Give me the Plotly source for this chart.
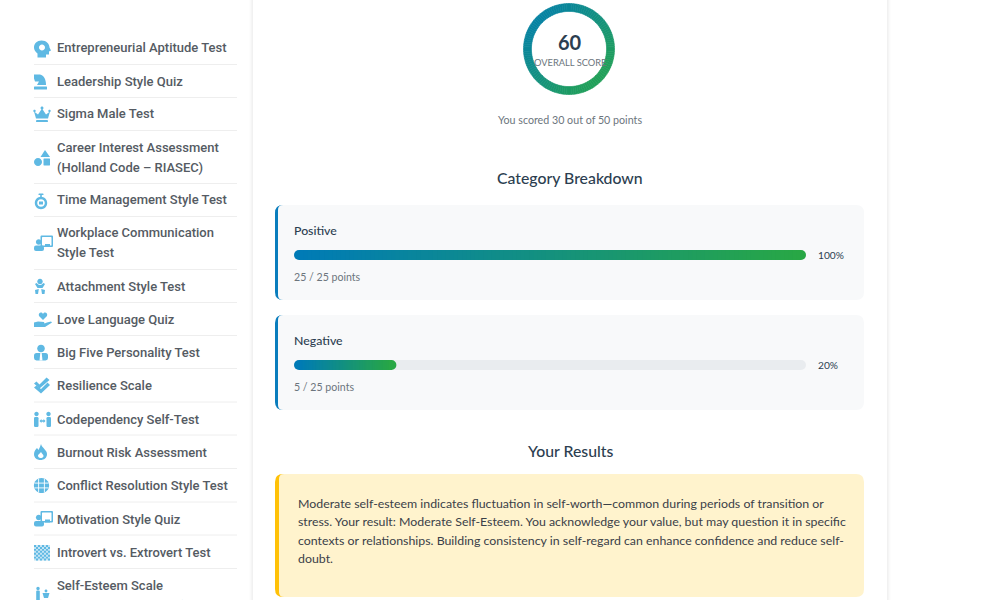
import math
import plotly.graph_objects as go

# ---- content ----
nav_items = [
    ["Entrepreneurial Aptitude Test"], ["Leadership Style Quiz"], ["Sigma Male Test"],
    ["Career Interest Assessment", "(Holland Code – RIASEC)"], ["Time Management Style Test"],
    ["Workplace Communication", "Style Test"], ["Attachment Style Test"], ["Love Language Quiz"],
    ["Big Five Personality Test"], ["Resilience Scale"], ["Codependency Self-Test"],
    ["Burnout Risk Assessment"], ["Conflict Resolution Style Test"], ["Motivation Style Quiz"],
    ["Introvert vs. Extrovert Test"], ["Self-Esteem Scale", "(Rosenberg Inventory)"],
]
nav_text_y = [[48], [81], [114], [147, 167], [200], [233, 253], [286], [319], [352], [385],
              [419], [452], [485], [519], [552], [585, 605]]
nav_rules_y = [64.5, 97.5, 130.5, 183.5, 216.5, 269.5, 302.5, 335.5, 368.5, 402, 435, 468.5, 502, 535, 568.5]

categories = ["Positive", "Negative"]
earned = [25, 5]
possible = [25, 25]
overall_score = 60
scored = 30
max_points = 50
result_lines = [
    "Moderate self-esteem indicates fluctuation in self-worth—common during periods of transition or",
    "stress. Your result: Moderate Self-Esteem. You acknowledge your value, but may question it in specific",
    "contexts or relationships. Building consistency in self-regard can enhance confidence and reduce self-",
    "doubt.",
]

# ---- styling ----
W, H = 1000, 600
BLUE = (0, 123, 182)
GREEN = (40, 167, 69)
DARK = "#2c3e50"
MUTED = "#6c757d"
ICON = "#5fb9e3"
MAIN_FONT = "Lato"
NAV_FONT = "Roboto"


def mix(t):
    return "rgb(%d,%d,%d)" % tuple(round(a + (b - a) * t) for a, b in zip(BLUE, GREEN))


def fx(x):
    return x / W


def fy(y):
    return 1 - y / H


def pth(cmds):
    """cmds: list of (letter, x1, y1, x2, y2, ...) in page pixels -> paper path."""
    out = []
    for c in cmds:
        nums = c[1:]
        pts = []
        for i in range(0, len(nums), 2):
            pts.append(f"{fx(nums[i]):.5f},{fy(nums[i + 1]):.5f}")
        out.append(c[0] + " ".join(pts))
    return " ".join(out)


def circle(cx, cy, r):
    k = 0.5523 * r
    return [("M", cx + r, cy),
            ("C", cx + r, cy + k, cx + k, cy + r, cx, cy + r),
            ("C", cx - k, cy + r, cx - r, cy + k, cx - r, cy),
            ("C", cx - r, cy - k, cx - k, cy - r, cx, cy - r),
            ("C", cx + k, cy - r, cx + r, cy - k, cx + r, cy), ("Z",)]


def rrect(x0, y0, x1, y1, r):
    return [("M", x0 + r, y0), ("L", x1 - r, y0), ("Q", x1, y0, x1, y0 + r),
            ("L", x1, y1 - r), ("Q", x1, y1, x1 - r, y1), ("L", x0 + r, y1),
            ("Q", x0, y1, x0, y1 - r), ("L", x0, y0 + r), ("Q", x0, y0, x0 + r, y0), ("Z",)]


def left_round(x0, y0, x1, y1, r):
    return [("M", x0 + r, y0), ("L", x1, y0), ("L", x1, y1), ("L", x0 + r, y1),
            ("Q", x0, y1, x0, y1 - r), ("L", x0, y0 + r), ("Q", x0, y0, x0 + r, y0), ("Z",)]


def poly(*pts):
    c = [("M", pts[0], pts[1])]
    for i in range(2, len(pts), 2):
        c.append(("L", pts[i], pts[i + 1]))
    c.append(("Z",))
    return c


shapes = []
annotations = []


def add_path(cmds, color, layer="below"):
    shapes.append(dict(type="path", xref="paper", yref="paper", path=pth(cmds), layer=layer,
                       fillcolor=color, line=dict(width=0), fillrule="evenodd"))


def add_line(x0, y0, x1, y1, color, w=1):
    shapes.append(dict(type="line", xref="paper", yref="paper", x0=fx(x0), y0=fy(y0), x1=fx(x1), y1=fy(y1),
                       layer="below", line=dict(color=color, width=w)))


def text(x, y, s, size, color, font=MAIN_FONT, weight=400, anchor="left"):
    annotations.append(dict(xref="paper", yref="paper", x=fx(x), y=fy(y), text=s, showarrow=False,
                            xanchor=anchor, yanchor="middle", align=anchor,
                            borderpad=0, borderwidth=0,
                            font=dict(family=font, size=size, color=color, weight=weight)))


# panel shadows
for x, c in [(249.5, "#fdfdfd"), (250.5, "#fafafa"), (251.5, "#f5f5f5"), (252.5, "#f1f1f1"),
             (887.5, "#f1f1f1"), (888.5, "#f5f5f5"), (889.5, "#fafafa"), (890.5, "#fdfdfd")]:
    add_line(x, 0, x, H, c)

# sidebar
for y in nav_rules_y:
    add_line(34, y, 237, y, "#eeeeee")
for lines, ys in zip(nav_items, nav_text_y):
    for s, y in zip(lines, ys):
        text(57, y, s, 13, "#555b63", font=NAV_FONT, weight=500)


# ---- icons (simplified glyphs) ----
def icon_head(cy):
    c = [("M", 41.5, cy - 8), ("C", 46.5, cy - 8, 49.5, cy - 4.5, 49.5, cy - 1), ("L", 51, cy + 2),
         ("L", 49, cy + 3), ("L", 49, cy + 6), ("L", 46, cy + 6), ("L", 46, cy + 9), ("L", 37.5, cy + 9),
         ("L", 37.5, cy + 5), ("C", 35, cy + 3, 34, cy + 1, 34, cy - 1), ("C", 34, cy - 5, 37, cy - 8, 41.5, cy - 8), ("Z",)]
    add_path(c + circle(42, cy - 1, 3), ICON)


def icon_knight(cy):
    add_path([("M", 34, cy - 7), ("L", 40, cy - 7), ("C", 44, cy - 6, 46, cy - 2, 46, cy + 3.5), ("L", 37, cy + 3.5),
              ("L", 39, cy), ("L", 35, cy), ("L", 34, cy - 3), ("Z",)], ICON)
    add_path(rrect(34, cy + 5, 47, cy + 8, 0.5), ICON)


def icon_crown(cy):
    add_path(poly(34, cy - 3, 38, cy, 42, cy - 6, 46, cy, 50, cy - 3, 48, cy + 4, 36, cy + 4), ICON)
    add_path(circle(42, cy - 6.5, 1.5), ICON)
    add_path(circle(34.5, cy - 3.5, 1.2), ICON)
    add_path(circle(49.5, cy - 3.5, 1.2), ICON)
    add_path(rrect(36, cy + 5.5, 48, cy + 7.5, 0.5), ICON)


def icon_shapes(cy):
    add_path(poly(45, cy - 7.5, 50, cy - 0.5, 40.5, cy - 0.5), ICON)
    add_path(circle(38, cy + 4.5, 4), ICON)
    add_path(rrect(43.5, cy + 1, 50, cy + 8, 0.5), ICON)


def icon_watch(cy):
    add_path(circle(41, cy + 2, 6.2) + circle(41, cy + 2, 3.8), ICON)
    add_path(rrect(38.5, cy - 7.5, 43.5, cy - 6, 0.5), ICON)
    add_path(rrect(40.2, cy - 6.5, 41.8, cy - 3.5, 0), ICON)
    add_path(rrect(39, cy + 0.5, 43, cy + 3.5, 0), ICON)


def icon_board(cy):
    add_path(circle(38.7, cy - 1.5, 2.8), ICON)
    add_path(rrect(34, cy + 2, 44, cy + 7.5, 2), ICON)
    add_path(rrect(40.5, cy - 8, 53, cy + 3.5, 1) + rrect(42, cy - 6.5, 51.5, cy + 2, 0.5), ICON)
    add_path(rrect(45, cy + 0.5, 50, cy + 3.5, 0), ICON)


def icon_baby(cy):
    add_path(circle(40, cy - 5, 2.7), ICON)
    add_path(poly(35, cy - 2.5, 36.5, cy - 3.5, 39, cy - 1.5, 41, cy - 1.5, 43.5, cy - 3.5, 45, cy - 2.5,
                  42.5, cy + 1.5, 37.5, cy + 1.5), ICON)
    add_path(poly(35, cy + 3.5, 38.8, cy + 2.5, 38, cy + 7.5, 35.5, cy + 7.5), ICON)
    add_path(poly(45, cy + 3.5, 41.2, cy + 2.5, 42, cy + 7.5, 44.5, cy + 7.5), ICON)


def icon_hand(cy):
    add_path([("M", 43, cy + 0.5), ("L", 39, cy - 3.5), ("C", 37.8, cy - 6.5, 41.5, cy - 8.5, 43, cy - 5.5),
              ("C", 44.5, cy - 8.5, 48.2, cy - 6.5, 47, cy - 3.5), ("Z",)], ICON)
    add_path([("M", 34, cy + 3), ("L", 38, cy + 2), ("L", 44, cy + 2.5), ("L", 44.5, cy + 4), ("L", 47, cy + 3),
              ("L", 51, cy + 2), ("L", 52, cy + 3), ("L", 45, cy + 7.5), ("L", 34, cy + 7.5), ("Z",)], ICON)


def icon_tie(cy):
    add_path(circle(41, cy - 4, 3.8), ICON)
    add_path(rrect(34, cy + 0.5, 48, cy + 8, 2.5), ICON)
    add_path(poly(40.3, cy + 0.5, 41.7, cy + 0.5, 42.5, cy + 8, 39.5, cy + 8), "#ffffff")


def icon_check(cy):
    add_path(poly(34, cy - 2, 36.5, cy - 4, 39.5, cy - 1, 46.5, cy - 8, 49.5, cy - 5.5, 39.5, cy + 3), ICON)
    add_path(poly(34, cy + 2, 36.5, cy, 41, cy + 3.5, 47.5, cy - 3, 50, cy - 0.5, 41, cy + 8), ICON)


def icon_people(cy):
    for cx in (36.5, 48.5):
        add_path(circle(cx, cy - 5.5, 2.2), ICON)
    add_path(rrect(34, cy - 2.5, 38.5, cy + 7.5, 1.2), ICON)
    add_path(rrect(46.5, cy - 2.5, 51, cy + 7.5, 1.2), ICON)
    add_path(poly(39.5, cy + 1.5, 41.5, cy - 0.5, 41.5, cy + 0.7, 43.5, cy + 0.7, 43.5, cy - 0.5, 45.5, cy + 1.5,
                  43.5, cy + 3.5, 43.5, cy + 2.3, 41.5, cy + 2.3, 41.5, cy + 3.5), ICON)


def icon_fire(cy):
    outer = [("M", 41, cy - 8), ("C", 42, cy - 4, 47, cy - 2, 47, cy + 2), ("C", 47, cy + 6, 44, cy + 8, 40.5, cy + 8),
             ("C", 37, cy + 8, 34, cy + 6, 34, cy + 2), ("C", 34, cy - 1, 36, cy - 3, 37, cy - 4), ("L", 38.5, cy - 2),
             ("C", 39.5, cy - 4, 40.5, cy - 6, 41, cy - 8), ("Z",)]
    inner = [("M", 41, cy), ("C", 42, cy + 2, 43.5, cy + 2.5, 43.5, cy + 4), ("C", 43.5, cy + 5.5, 42, cy + 6, 40.5, cy + 6),
             ("C", 39, cy + 6, 38, cy + 5, 38, cy + 3.5), ("C", 38, cy + 2.5, 40, cy + 1.5, 41, cy), ("Z",)]
    add_path(outer + inner, ICON)


def icon_globe(cy):
    add_path(circle(41.5, cy, 7.6), ICON)
    for x in (38.6, 44.4):
        add_line(x, cy - 7, x, cy + 7, "#ffffff", 0.9)
    for y in (-2.4, 2.4):
        add_line(34.5, cy + y, 48.5, cy + y, "#ffffff", 0.9)


def icon_checker(cy):
    add_path(rrect(34, cy - 7.5, 50, cy + 8, 0), "#c4e4f4")
    cmds = []
    for i in range(8):
        for j in range(8):
            if (i + j) % 2 == 0:
                cmds += poly(34 + i * 2, cy - 7.5 + j * 1.94, 36 + i * 2, cy - 7.5 + j * 1.94,
                             36 + i * 2, cy - 5.56 + j * 1.94, 34 + i * 2, cy - 5.56 + j * 1.94)
    add_path(cmds, ICON)


def icon_mv(cy):
    add_path(circle(38, cy - 1.5, 1.7), ICON)
    add_path(rrect(36.2, cy + 0.5, 39.8, cy + 12, 1), ICON)
    add_path(circle(46, cy + 1, 1.4), ICON)
    add_path(poly(42.5, cy + 3, 49.5, cy + 3, 48, cy + 8, 44, cy + 8), ICON)


icon_funcs = [icon_head, icon_knight, icon_crown, icon_shapes, icon_watch, icon_board, icon_baby, icon_hand,
              icon_tie, icon_check, icon_people, icon_fire, icon_globe, icon_board, icon_checker, icon_mv]
icon_y = [48.5, 81.5, 114.5, 157.5, 201, 243.5, 286.5, 319.5, 352.5, 385.5, 419.5, 452, 485.5, 519, 552.5, 590]
for fn, y in zip(icon_funcs, icon_y):
    fn(y)

# score ring text
text(569.5, 42.5, str(overall_score), 20, DARK, weight=700, anchor="center")
text(569.5, 63, "OVERALL SCORE", 9.3, MUTED, anchor="center")
text(569.5, 119, f"You scored {scored} out of {max_points} points", 10.7, MUTED, anchor="center")

text(569.5, 177.5, "Category Breakdown", 15.8, DARK, weight=500, anchor="center")
text(569.5, 450.5, "Your Results", 15.8, DARK, weight=500, anchor="center")

# category cards
card_y = [(205, 300), (315, 410)]
pct_values = [e / p * 100 for e, p in zip(earned, possible)]
for (y0, y1), cat, e, p, v in zip(card_y, categories, earned, possible, pct_values):
    add_path(left_round(275, y0, 292, y1, 8), "#0a7dbd")
    add_path([("M", 283, y0), ("L", 856, y0), ("Q", 864, y0, 864, y0 + 8), ("L", 864, y1 - 8),
              ("Q", 864, y1, 856, y1), ("L", 283, y1), ("Q", 278, y1, 278, y1 - 5), ("L", 278, y0 + 5),
              ("Q", 278, y0, 283, y0), ("Z",)], "#f8f9fa")
    text(294, y0 + 25.5, cat, 12.3, DARK, weight=500)
    text(294, y0 + 71.5, f"{e} / {p} points", 10.6, MUTED)
    text(818, y0 + 50, f"{v:.0f}%", 10.2, DARK)

# result box
add_path(left_round(275, 474, 292, 597, 8), "#ffc107")
add_path([("M", 284, 474), ("L", 856, 474), ("Q", 864, 474, 864, 482), ("L", 864, 589), ("Q", 864, 597, 856, 597),
          ("L", 284, 597), ("Q", 279, 597, 279, 592), ("L", 279, 479), ("Q", 279, 474, 284, 474), ("Z",)], "#fff3cd")
for s, y in zip(result_lines, [503, 521.5, 540, 558.5]):
    text(298, y, s, 12.35, "#3a4048")

fig = go.Figure()

# ---- bars ----
CAP = 5 * 100 / 512
rows = list(range(len(categories)))
BAR_W = 10 / 110


def bar(y, x, base, color, radius=0):
    fig.add_trace(go.Bar(y=y, x=x, base=base, orientation="h", width=BAR_W,
                         marker=dict(color=color, line=dict(width=0), cornerradius=radius),
                         hoverinfo="skip", showlegend=False))


# track: rounded on both ends (a plotly bar rounds only its far end, so one part runs each way)
bar(rows, [100 - CAP] * len(rows), [CAP] * len(rows), "#e9ecef", 5)
bar(rows, [-2 * CAP] * len(rows), [2 * CAP] * len(rows), "#e9ecef", 5)

SEGS = 120
for r, v in zip(rows, pct_values):
    span = v - 2 * CAP
    # rounded ends go first; the gradient then overpaints everything but their outer halves
    bar([r], [-2 * CAP], [2 * CAP], mix(0), 5)
    bar([r], [2 * CAP], [v - 2 * CAP], mix(1), 5)
    # each segment runs to the bar's end and is overpainted by the next, so no seams show
    bar([r] * SEGS, [span * (SEGS - i) / SEGS for i in range(SEGS)],
        [CAP + span * i / SEGS for i in range(SEGS)], [mix(i / (SEGS - 1)) for i in range(SEGS)])

# ---- ring: full circle painted with a 135deg gradient ----
N = 120
ring_cols = []
for i in range(N):
    th = (i + 0.5) / N * 2 * math.pi
    ring_cols.append(mix(0.5 + (math.sin(th) - math.cos(th)) * 42 / 184))
fig.add_trace(go.Pie(values=[1] * N, sort=False, direction="clockwise", rotation=0, hole=0.826,
                     domain=dict(x=[fx(523.5), fx(614.5)], y=[fy(94.5), fy(3.5)]),
                     marker=dict(colors=ring_cols, line=dict(color=ring_cols, width=0.6)),
                     textinfo="none", hoverinfo="skip", showlegend=False))

fig.update_layout(
    width=W, height=H, margin=dict(l=0, r=0, t=0, b=0, pad=0), autosize=False,
    paper_bgcolor="white", plot_bgcolor="rgba(0,0,0,0)",
    barmode="overlay", showlegend=False, shapes=shapes, annotations=annotations,
    xaxis=dict(domain=[fx(294), fx(806)], range=[0, 100], visible=False, fixedrange=True),
    yaxis=dict(domain=[fy(420), fy(200)], range=[1.5, -0.5], visible=False, fixedrange=True),
)

fig.write_html("out.html", config=dict(displayModeBar=False),
               post_script="document.body.style.margin='0';document.body.style.overflow='hidden';")
